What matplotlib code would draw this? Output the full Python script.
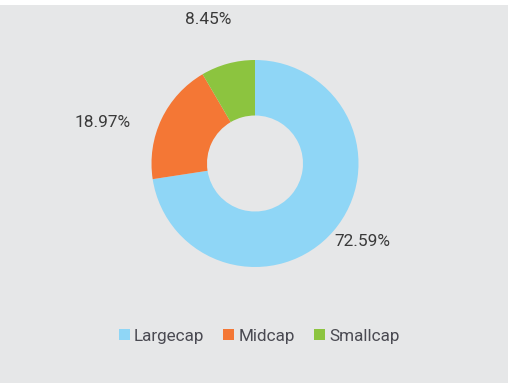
import matplotlib
matplotlib.use("Agg")
import matplotlib.pyplot as plt
from matplotlib.patches import Rectangle, Patch
import numpy as np

categories = ["Largecap", "Midcap", "Smallcap"]
values = [72.59, 18.97, 8.45]
labels = ["72.59%", "18.97%", "8.45%"]
colors = ["#8fd6f6", "#f47735", "#8cc43f"]

plt.rcParams['font.family'] = ['Roboto', 'DejaVu Sans']

W, H = 509, 383
fig = plt.figure(figsize=(W / 100, H / 100), dpi=100, facecolor="white")
fig.patches.append(Rectangle((0, 0), 508 / W, 378 / H, transform=fig.transFigure,
                             facecolor="#e6e7e8", edgecolor="none", zorder=-10))

ax = fig.add_axes([0, 0, 1, 1])
ax.set_facecolor("none")
cx, cy, R = 255, H - 163.5, 103.5
wedges, _ = ax.pie(values, colors=colors, startangle=90, counterclock=False,
                   center=(cx, cy), radius=R,
                   wedgeprops=dict(width=R - 48, edgecolor="none"))
ax.set_xlim(0, W)
ax.set_ylim(0, H)
ax.set_aspect("equal")
ax.axis("off")

# label placement (angle shift in degrees, radius factor)
label_layout = [(4.8, 1.28), (10.3, 1.53), (2.8, 1.46)]
for w, lab, (dang, rf) in zip(wedges, labels, label_layout):
    mid = np.deg2rad((w.theta1 + w.theta2) / 2 + dang)
    ax.text(cx + R * rf * np.cos(mid), cy + R * rf * np.sin(mid), lab,
            ha="center", va="center", fontsize=12.4, color="#3a3a3a")

handles = [Patch(facecolor=c, edgecolor="none") for c in colors]
fig.legend(handles, categories, loc="center", bbox_to_anchor=(259 / W, 1 - 336 / H),
           ncol=3, frameon=False, fontsize=12.3, labelcolor="#4a4a52",
           handlelength=0.65, handleheight=0.65, handletextpad=0.25,
           columnspacing=1.1, borderaxespad=0)

fig.savefig("out.png", dpi=100, facecolor="white")
